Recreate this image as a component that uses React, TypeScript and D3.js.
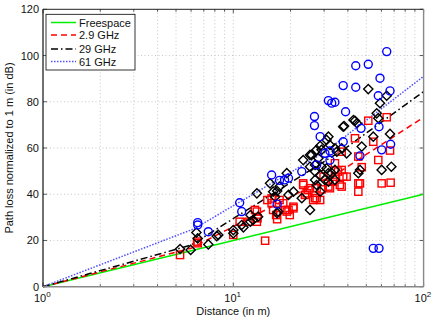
import React from "react";
import * as d3 from "d3";

const W = 436;
const H = 319;

// Series: [distance (m), path loss (dB)]
const red29: [number, number][] = [
  [5.25, 13.7], [6.45, 19.5], [6.5, 18.8], [10, 22.4], [10.8, 28.1], [12, 28.1], [13, 33.2],
  [13.3, 32.5], [13.3, 28.1], [13.4, 29.6], [14.7, 19.9], [15.1, 37.5], [15.9, 38.2],
  [15.9, 36.1], [16.2, 33.2], [16.8, 31.0], [17.0, 29.2], [17.5, 37.5], [18.3, 36.1],
  [18.7, 33.2], [19.1, 32.5], [19.5, 33.2], [19.8, 31.0], [20.7, 33.9], [20.7, 34.6],
  [23.3, 44.7], [23.3, 44.0], [23.8, 39.7], [24.3, 40.4], [24.8, 41.8], [25.3, 42.6],
  [26.3, 37.5], [26.9, 38.3], [27.4, 38.3], [27.4, 42.6], [28.6, 37.5], [29.1, 42.1],
  [29.8, 47.6], [31.6, 43.3], [32.2, 42.6], [33.5, 45.4], [34.2, 47.6], [34.2, 53.4],
  [35.5, 49.8], [36.3, 44.0], [37.1, 50.5], [37.1, 43.3], [37.1, 58.4], [37.8, 47.6],
  [39.4, 47.6], [43.6, 64.2], [45.4, 56.3], [45.4, 44.7], [45.4, 41.1], [46.3, 44.7],
  [47.3, 51.7], [51.2, 71.8], [54.4, 62.7], [57.8, 54.8], [60.2, 44.7], [64.0, 73.3],
  [66.6, 58.9], [67.1, 45.0]
];

const black29: [number, number][] = [
  [5.25, 16.3], [5.97, 15.9], [6.4, 23.4], [6.5, 20.9], [7.39, 18.3], [8.18, 21.9],
  [8.34, 22.4], [10, 24.5], [10, 23.1], [11.07, 26.7], [11.3, 25.7], [12.3, 31.0],
  [12.3, 28.1], [12.7, 28.9], [13.3, 40.4], [13.5, 30.3], [15.6, 44.7], [16.2, 41.1],
  [16.6, 38.9], [17.0, 41.4], [17.0, 31.8], [17.2, 32.5], [17.5, 43.3], [19.1, 49.1],
  [19.5, 39.7], [20.7, 41.1], [22.9, 38.3], [23.3, 54.8], [25.3, 33.2], [25.3, 51.9],
  [25.3, 57.0], [25.8, 57.0], [26.9, 52.7], [26.9, 49.8], [26.9, 46.2], [27.4, 59.2],
  [27.4, 44.0], [28.0, 55.6], [28.6, 60.9], [28.6, 48.3], [28.6, 41.1], [29.1, 59.2],
  [29.1, 51.9], [30.3, 46.2], [30.9, 63.5], [30.9, 51.2], [31.6, 64.9], [31.6, 49.1],
  [31.6, 45.4], [32.2, 61.3], [32.9, 49.1], [34.2, 59.9], [34.2, 50.5], [34.2, 46.2],
  [35.0, 58.4], [37.1, 59.9], [37.8, 69.2], [38.2, 69.5], [39.4, 57.7], [42.8, 72.1],
  [43.6, 71.8], [44.6, 70.7], [45.4, 49.1], [46.3, 50.5], [47.3, 60.6], [51.2, 85.5],
  [54.4, 64.9], [56.7, 75.0], [57.8, 72.9], [59.0, 79.4], [60.2, 50.5], [64.0, 82.6],
  [66.6, 66.1], [67.7, 51.9]
];

const blue61: [number, number][] = [
  [6.5, 27.7], [6.5, 26.7], [7.39, 23.8], [10.8, 36.3], [11.07, 32.5], [15.9, 48.3],
  [17.0, 35.7], [17.5, 46.0], [18.6, 46.2], [19.5, 46.9], [22.9, 49.8], [26.7, 73.6],
  [26.7, 69.7], [27.4, 52.7], [28.6, 64.9], [30.3, 57.7], [31.6, 80.5], [32.2, 58.7],
  [32.2, 54.7], [32.9, 79.4], [34.2, 79.8], [37.8, 87.0], [37.8, 62.7], [38.9, 75.7],
  [44.0, 95.6], [44.0, 86.3], [46.3, 56.6], [46.9, 68.5], [51.2, 96.2], [54.4, 16.6],
  [57.8, 82.6], [58.3, 69.2], [58.3, 16.6], [59.0, 90.2], [60.2, 59.2], [64.0, 101.7],
  [66.6, 84.7], [67.1, 61.6]
];

// Model curves: vertices [distance, dB]
const fitFree: [number, number][] = [[1, 0], [100, 40]];
const fitRed: [number, number][] = [[1, 0], [6, 16.6], [36.3, 49.8], [100, 73.3]];
const fitBlack: [number, number][] = [[1, 0], [6, 18], [39, 60], [100, 84.4]];
const fitBlue: [number, number][] = [[1, 0], [6.2, 25], [30, 58], [100, 91]];

const fitNames = ["Freespace", "2.9 GHz", "29 GHz", "61 GHz"];
const fitColors = ["#00ee00", "#ff0000", "#000000", "#5050ff"];
const fitDashes = ["", "6,4", "7,3,1.5,3", "1.5,1.5"];

const yTicks = [0, 20, 40, 60, 80, 100, 120];
const xMajor = [1, 10, 100];
const xExp = ["0", "1", "2"];

export default function App() {
  const L = 43, R = 423.6, T = 9.3, B = 286.7;
  const x = d3.scaleLog().domain([1, 100]).range([L, R]);
  const y = d3.scaleLinear().domain([0, 120]).range([B, T]);
  const minor: number[] = [];
  for (const dec of [1, 10]) for (let k = 2; k <= 9; k++) minor.push(dec * k);
  const line = d3.line<[number, number]>().x((d) => x(d[0])).y((d) => y(d[1]));
  const fits = [fitFree, fitRed, fitBlack, fitBlue];
  const font = "'Liberation Sans', Arial, Helvetica, sans-serif";
  const sq = 3.6;
  const dm = 4.6;

  return (
    <svg width={W} height={H} style={{ position: "absolute", left: 0, top: 0, background: "#fff" }} fontFamily={font}>
      <rect x={0} y={0} width={W} height={H} fill="#fff" />
      {/* grid */}
      <g stroke="#b0b0b0" strokeWidth={0.7} strokeDasharray="1,2.5">
        {[...minor, 10].map((v) => (
          <line key={"gx" + v} x1={x(v)} x2={x(v)} y1={T} y2={B} />
        ))}
        {yTicks.slice(1, -1).map((v) => (
          <line key={"gy" + v} x1={L} x2={R} y1={y(v)} y2={y(v)} />
        ))}
      </g>
      {/* ticks */}
      <g stroke="#333" strokeWidth={0.8}>
        {yTicks.map((v) => (
          <g key={"ty" + v}>
            <line x1={L} x2={L + 4} y1={y(v)} y2={y(v)} />
            <line x1={R} x2={R - 4} y1={y(v)} y2={y(v)} />
          </g>
        ))}
        {xMajor.map((v) => (
          <g key={"tx" + v}>
            <line x1={x(v)} x2={x(v)} y1={B} y2={B - 4} />
            <line x1={x(v)} x2={x(v)} y1={T} y2={T + 4} />
          </g>
        ))}
        {minor.map((v) => (
          <g key={"tm" + v}>
            <line x1={x(v)} x2={x(v)} y1={B} y2={B - 2.5} />
            <line x1={x(v)} x2={x(v)} y1={T} y2={T + 2.5} />
          </g>
        ))}
      </g>
      {/* model lines */}
      <g fill="none">
        {fits.map((f, i) => (
          <path
            key={"fit" + i}
            d={line(f) || ""}
            stroke={fitColors[i]}
            strokeWidth={1.5}
            strokeDasharray={fitDashes[i] || undefined}
          />
        ))}
      </g>
      {/* markers */}
      <g fill="none" stroke="#ff0000" strokeWidth={1.4}>
        {red29.map((p, i) => (
          <rect key={"r" + i} x={x(p[0]) - sq} y={y(p[1]) - sq} width={sq * 2} height={sq * 2} />
        ))}
      </g>
      <g fill="none" stroke="#000" strokeWidth={1.4}>
        {black29.map((p, i) => {
          const cx = x(p[0]);
          const cy = y(p[1]);
          return (
            <path key={"b" + i} d={`M${cx},${cy - dm}L${cx + dm},${cy}L${cx},${cy + dm}L${cx - dm},${cy}Z`} />
          );
        })}
      </g>
      <g fill="none" stroke="#0000ff" strokeWidth={1.4}>
        {blue61.map((p, i) => (
          <circle key={"c" + i} cx={x(p[0])} cy={y(p[1])} r={4} />
        ))}
      </g>
      {/* frame */}
      <line x1={L} x2={R} y1={T} y2={T} stroke="#222" strokeWidth={1} />
      <line x1={L} x2={L} y1={T} y2={B} stroke="#111" strokeWidth={1.2} />
      <line x1={R} x2={R} y1={T} y2={B} stroke="#888" strokeWidth={1.4} />
      <line x1={L} x2={R} y1={B} y2={B} stroke="#888" strokeWidth={1.6} />
      {/* tick labels */}
      <g fontSize={11} fill="#111">
        {yTicks.map((v) => (
          <text key={"yl" + v} x={L - 4} y={y(v) + 4} textAnchor="end">
            {v}
          </text>
        ))}
        {xMajor.map((v, i) => (
          <text key={"xl" + v} x={x(v) - 9} y={B + 15.5}>
            10
            <tspan dy={-5} fontSize={8}>
              {xExp[i]}
            </tspan>
          </text>
        ))}
        <text x={(L + R) / 2} y={315} textAnchor="middle">
          Distance (in m)
        </text>
        <text transform={`translate(13,${(T + B) / 2}) rotate(-90)`} textAnchor="middle">
          Path loss normalized to 1 m (in dB)
        </text>
      </g>
      {/* legend */}
      <g>
        <rect x={46} y={14.3} width={89} height={55.7} fill="#fff" stroke="#000" strokeWidth={0.8} />
        {fitNames.map((name, i) => {
          const ly = [22.5, 35, 49, 61.5][i];
          return (
            <g key={"lg" + i}>
              <line x1={51} x2={76} y1={ly} y2={ly} stroke={fitColors[i]} strokeWidth={1.5} strokeDasharray={fitDashes[i] || undefined} />
              <text x={79} y={ly + 4} fontSize={11} fill="#111">
                {name}
              </text>
            </g>
          );
        })}
      </g>
    </svg>
  );
}
